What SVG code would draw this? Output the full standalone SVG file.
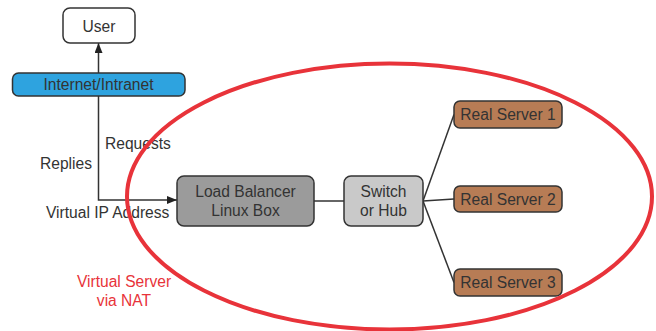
<svg xmlns="http://www.w3.org/2000/svg" width="656" height="331" viewBox="0 0 656 331">
<defs>
<marker id="arr" viewBox="0 0 10 8" refX="10" refY="4" markerWidth="10" markerHeight="8" markerUnits="userSpaceOnUse" orient="auto">
<path d="M0,0 L10,4 L0,8 Z" fill="#222"/>
</marker>
<style>
.box{stroke:#333;stroke-width:1.5}
.t{font-family:"Liberation Sans",Arial,Helvetica,sans-serif;font-size:15.6px;fill:#333}
.c{text-anchor:middle}
.line{fill:none;stroke:#333;stroke-width:1.5}
.red{font-family:"Liberation Sans",Arial,Helvetica,sans-serif;font-size:15.6px;fill:#e8333a;text-anchor:middle}
</style>
</defs>
<rect width="656" height="331" fill="#fff"/>
<g id="connectors">
<line class="line" x1="98.5" y1="73" x2="98.5" y2="43" marker-end="url(#arr)"/>
<polyline class="line" points="98.5,96 98.5,200 177,200" marker-end="url(#arr)"/>
<line class="line" x1="314" y1="201" x2="344" y2="201"/>
<line class="line" x1="423" y1="201" x2="454" y2="114.5"/>
<line class="line" x1="423" y1="201" x2="454" y2="199"/>
<line class="line" x1="423" y1="201" x2="454" y2="282.5"/>
</g>
<g id="labels">
<text class="t" x="105" y="149">Requests</text>
<text class="t" x="40" y="169">Replies</text>
<text class="t" x="46" y="218">Virtual IP Address</text>
</g>
<g id="user">
<rect class="box" x="63" y="8" width="72" height="35" rx="7" fill="#fff"/>
<text class="t c" x="99" y="32">User</text>
</g>
<g id="internet">
<rect class="box" x="12.5" y="73" width="172.5" height="23" rx="6" fill="#2ea3df"/>
<text class="t c" x="98.5" y="90">Internet/Intranet</text>
</g>
<g id="loadbalancer">
<rect class="box" x="177" y="176" width="137" height="50" rx="7" fill="#9b9b9b"/>
<text class="t c" x="245.5" y="197">Load Balancer</text>
<text class="t c" x="245.5" y="216">Linux Box</text>
</g>
<g id="switch">
<rect class="box" x="344" y="176" width="79" height="50" rx="7" fill="#c9c9c9"/>
<text class="t c" x="383.5" y="197">Switch</text>
<text class="t c" x="383.5" y="216">or Hub</text>
</g>
<g id="rs1">
<rect class="box" x="454" y="101" width="108" height="27" rx="6" fill="#b77c55"/>
<text class="t c" x="508" y="120">Real Server 1</text>
</g>
<g id="rs2">
<rect class="box" x="454" y="186" width="108" height="26" rx="6" fill="#b77c55"/>
<text class="t c" x="508" y="204.5">Real Server 2</text>
</g>
<g id="rs3">
<rect class="box" x="454" y="269" width="108" height="27" rx="6" fill="#b77c55"/>
<text class="t c" x="508" y="288">Real Server 3</text>
</g>
<g id="virtualserver">
<ellipse cx="389.5" cy="196.5" rx="262.5" ry="133" fill="none" stroke="#e8333a" stroke-width="4"/>
<text class="red" x="124" y="287">Virtual Server</text>
<text class="red" x="124" y="306">via NAT</text>
</g>
</svg>
